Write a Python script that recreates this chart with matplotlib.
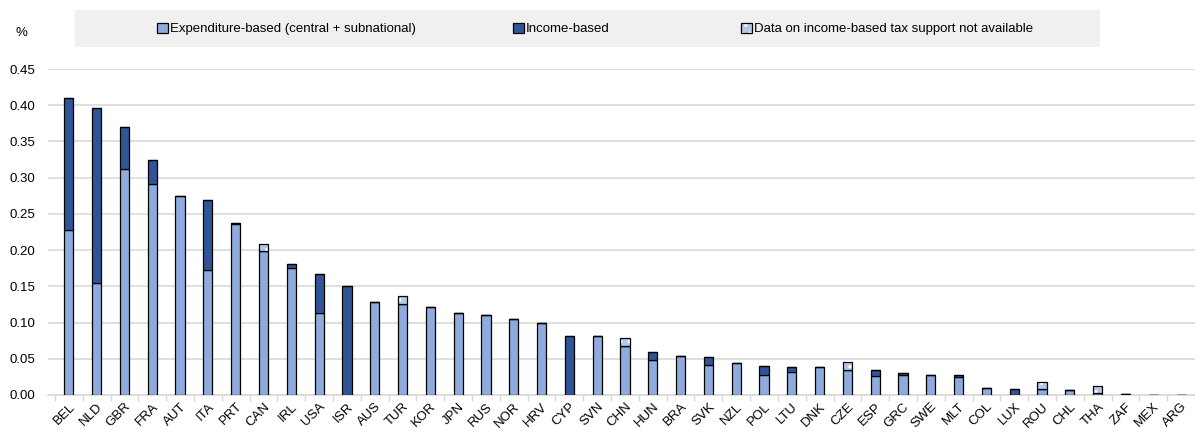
import matplotlib.pyplot as plt
from matplotlib.patches import Rectangle
import numpy as np

plt.rcParams['font.family'] = ['Liberation Sans', 'DejaVu Sans']
plt.rcParams['hatch.linewidth'] = 1.2

countries = ['BEL', 'NLD', 'GBR', 'FRA', 'AUT', 'ITA', 'PRT', 'CAN', 'IRL', 'USA', 'ISR',
             'AUS', 'TUR', 'KOR', 'JPN', 'RUS', 'NOR', 'HRV', 'CYP', 'SVN', 'CHN', 'HUN',
             'BRA', 'SVK', 'NZL', 'POL', 'LTU', 'DNK', 'CZE', 'ESP', 'GRC', 'SWE', 'MLT',
             'COL', 'LUX', 'ROU', 'CHL', 'THA', 'ZAF', 'MEX', 'ARG']
expenditure = [0.228, 0.154, 0.312, 0.291, 0.275, 0.173, 0.236, 0.199, 0.176, 0.113, 0.0,
               0.129, 0.125, 0.121, 0.113, 0.111, 0.105, 0.100, 0.0, 0.081, 0.068, 0.048,
               0.054, 0.041, 0.044, 0.028, 0.032, 0.039, 0.035, 0.026, 0.027, 0.028, 0.025,
               0.0095, 0.0, 0.008, 0.007, 0.003, 0.001, 0.0005, 0.0003]
income = [0.182, 0.242, 0.058, 0.034, 0.0, 0.096, 0.002, 0.0, 0.005, 0.054, 0.151,
          0.0, 0.0, 0.001, 0.0, 0.0, 0.0, 0.0, 0.082, 0.0, 0.0, 0.011,
          0.0, 0.011, 0.0, 0.012, 0.007, 0.0, 0.0, 0.009, 0.004, 0.0, 0.002,
          0.0, 0.008, 0.0, 0.0, 0.0, 0.001, 0.0, 0.0]
not_available = [0.0, 0.0, 0.0, 0.0, 0.0, 0.0, 0.0, 0.010, 0.0, 0.0, 0.0,
                 0.0, 0.011, 0.0, 0.0, 0.0, 0.0, 0.0, 0.0, 0.0, 0.010, 0.0,
                 0.0, 0.0, 0.0, 0.0, 0.0, 0.0, 0.011, 0.0, 0.0, 0.0, 0.0,
                 0.0, 0.0, 0.010, 0.0, 0.010, 0.0, 0.0, 0.0]
legend_labels = ['Expenditure-based (central + subnational)', 'Income-based',
                 'Data on income-based tax support not available']

exp_col = '#8faadc'
inc_col = '#2f5597'
na_col = '#b4c7e7'
fs = 9.5

fig = plt.figure(figsize=(11.95, 4.34), dpi=100)
ax = fig.add_axes([48 / 1195, 0.0899, 1147 / 1195, 0.751])

x = np.arange(len(countries))
exp = np.array(expenditure)
inc = np.array(income)
na = np.array(not_available)
w = 0.33

b1 = ax.bar(x, exp, w, color=exp_col, edgecolor='black', linewidth=0.9, zorder=3)
b2 = ax.bar(x, inc, w, bottom=exp, color=inc_col, edgecolor='black', linewidth=0.9, zorder=3)
# not available: white dotted fill, then black outline on top
b3 = ax.bar(x, na, w, bottom=exp + inc, color=na_col, edgecolor='white', linewidth=0,
            hatch='..', zorder=3)
b4 = ax.bar(x, na, w, bottom=exp + inc, facecolor='none', edgecolor='black', linewidth=0.9,
            zorder=4)

ax.set_xlim(-0.75, len(countries) - 0.55)
ax.set_ylim(0, 0.45)
ticks = np.arange(0, 0.451, 0.05)
ax.set_yticks(ticks)
ax.set_yticklabels(['%.2f' % v for v in ticks])
ax.yaxis.grid(True, color='#d9d9d9', linewidth=1.2, zorder=0)
ax.tick_params(axis='y', length=0, labelsize=fs, pad=9)

ax.set_xticks(x)
ax.set_xticklabels(countries, rotation=45, ha='right', rotation_mode='anchor', fontsize=fs)
ax.tick_params(axis='x', length=0, pad=4)
ax.set_xticks(np.arange(-0.5, len(countries), 1), minor=True)
ax.tick_params(axis='x', which='minor', length=4, color='#d9d9d9', width=1)

for s in ['top', 'right', 'left']:
    ax.spines[s].set_visible(False)
ax.spines['bottom'].set_color('#d9d9d9')
ax.spines['bottom'].set_linewidth(1.2)

fig.text(15 / 1195, 1 - 33 / 434, '%', fontsize=fs, ha='left', va='center')

fig.patches.append(Rectangle((75 / 1195, 1 - 47 / 434), 1025 / 1195, 37 / 434,
                             transform=fig.transFigure, facecolor='#f0f0f0',
                             edgecolor='none', zorder=0))
leg_x = [157, 513, 741]
handles = [b1, b2, (b3.patches[0], b4.patches[0])]
for hx, h, lab in zip(leg_x, handles, legend_labels):
    fig.legend(handles=[h], labels=[lab], loc='center left',
               bbox_to_anchor=(hx / 1195, 1 - 29 / 434), frameon=False, fontsize=fs,
               handlelength=0.8, handleheight=0.8, handletextpad=0.2,
               borderpad=0, borderaxespad=0)

fig.savefig('out.png', dpi=100)
